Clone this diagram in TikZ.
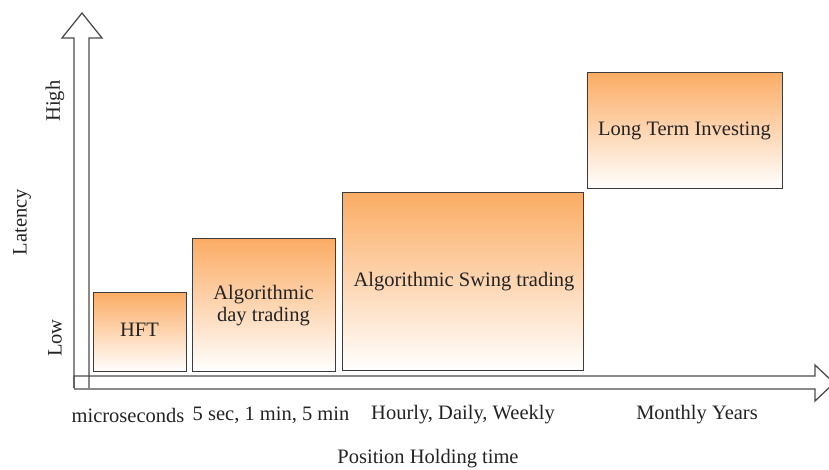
\documentclass[tikz,border=0pt]{standalone}
\usepackage{fontspec}
\setmainfont{Liberation Serif}
\definecolor{boxtop}{RGB}{251,172,100}
\definecolor{txt}{RGB}{35,35,35}
\definecolor{edge}{RGB}{60,60,60}
\begin{document}
\begin{tikzpicture}[x=1pt,y=-1pt,
  every node/.style={font=\fontsize{20.5}{24}\selectfont, text=txt},
  box/.style={draw=edge, line width=1.3pt, rectangle, anchor=north west, inner sep=0pt,
    top color=boxtop, bottom color=white, align=center},
  axisarrow/.style={draw=black!70, line width=1.3pt, line join=miter}]
\useasboundingbox (0,0) rectangle (829,469);
% axes
\draw[axisarrow] (74,388) -- (74,38) -- (62,38) -- (82,13) -- (102,38) -- (89,38) -- (89,388);
\draw[axisarrow] (74,388) -- (74,376) -- (815,376) -- (815,365) -- (834,383) -- (815,401) -- (815,389) -- (74,389);
% boxes
\node[box, minimum width=93pt, minimum height=79pt] (hft) at (93,292) {};
\node at (139.5,330) {HFT};
\node[box, minimum width=143pt, minimum height=133pt] (day) at (192,238) {};
\node[align=center, font=\fontsize{20.5}{22}\selectfont] at (263.5,306) {Algorithmic\\day trading};
\node[box, minimum width=241pt, minimum height=178pt] (swing) at (342,192) {};
\node at (464,282) {Algorithmic Swing trading};
\node[box, minimum width=195pt, minimum height=116pt] (long) at (587,72) {};
\node at (684.5,131) {Long Term Investing};
% axis labels
\node[rotate=90] (high) at (55,101) {High};
\node[rotate=90] (lat) at (22,222) {Latency};
\node[rotate=90] (low) at (55,338) {Low};
\node (l1) at (128,415) {microseconds};
\node (l2) at (271,415) {5 sec, 1 min, 5 min};
\node (l3) at (463,415) {Hourly, Daily, Weekly};
\node (l4) at (697,415) {Monthly Years};
\node (xl) at (428,459) {Position Holding time};
\end{tikzpicture}
\end{document}
